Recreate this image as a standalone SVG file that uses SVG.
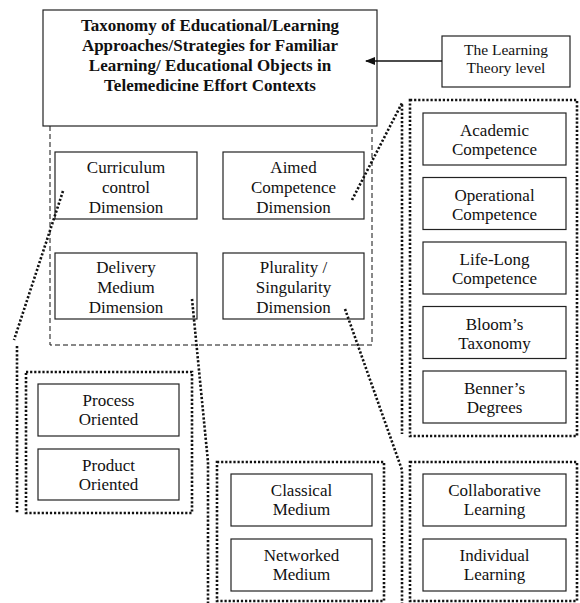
<svg xmlns="http://www.w3.org/2000/svg" width="580" height="603" viewBox="0 0 580 603">
<style>
.box{fill:#fff;stroke:#222;stroke-width:1.2}
.t{font-family:"Liberation Serif","Times New Roman",serif;font-size:17px;fill:#111;text-anchor:middle}
.tb{font-weight:bold}
.sm{font-size:15.5px}
.dot{fill:none;stroke:#111;stroke-width:2.6;stroke-dasharray:2.2 1.9}
.dash{fill:none;stroke:#111;stroke-width:1;stroke-dasharray:5 3}
</style>
<defs>
<marker id="ah" markerWidth="10" markerHeight="8" refX="9" refY="4" orient="auto" markerUnits="userSpaceOnUse">
<path d="M0,0 L10,4 L0,8 z" fill="#111"/>
</marker>
</defs>
<rect width="580" height="603" fill="#fff"/>
<g id="region">
<path class="dash" d="M50,126 L50,345 L372,345 L372,126"/>
</g>
<g id="frames">
<rect class="dot" x="410" y="100" width="167" height="336"/>
<rect class="dot" x="26" y="372" width="166" height="141"/>
<rect class="dot" x="217" y="462" width="167" height="139"/>
<rect class="dot" x="410" y="462" width="167" height="139"/>
</g>
<g id="title">
<rect class="box" x="43" y="10" width="334" height="116"/>
<text class="t tb" x="210" y="31">Taxonomy of Educational/Learning</text>
<text class="t tb" x="210" y="51">Approaches/Strategies for Familiar</text>
<text class="t tb" x="210" y="71">Learning/ Educational Objects in</text>
<text class="t tb" x="210" y="91">Telemedicine Effort Contexts</text>
</g>
<g id="theory">
<rect class="box" x="442" y="36" width="128" height="51"/>
<text class="t sm" x="506" y="55">The Learning</text>
<text class="t sm" x="506" y="73">Theory level</text>
</g>
<g id="curriculum">
<rect class="box" x="55" y="152" width="142" height="67"/>
<text class="t" x="126" y="173">Curriculum</text>
<text class="t" x="126" y="193">control</text>
<text class="t" x="126" y="213">Dimension</text>
</g>
<g id="aimed">
<rect class="box" x="223" y="152" width="141" height="67"/>
<text class="t" x="293.5" y="173">Aimed</text>
<text class="t" x="293.5" y="193">Competence</text>
<text class="t" x="293.5" y="213">Dimension</text>
</g>
<g id="delivery">
<rect class="box" x="55" y="253" width="142" height="66"/>
<text class="t" x="126" y="273">Delivery</text>
<text class="t" x="126" y="293">Medium</text>
<text class="t" x="126" y="313">Dimension</text>
</g>
<g id="plurality">
<rect class="box" x="223" y="253" width="141" height="66"/>
<text class="t" x="293.5" y="273">Plurality /</text>
<text class="t" x="293.5" y="293">Singularity</text>
<text class="t" x="293.5" y="313">Dimension</text>
</g>
<g id="academic">
<rect class="box" x="423" y="113" width="143" height="52"/>
<text class="t" x="494.5" y="136">Academic</text>
<text class="t" x="494.5" y="155">Competence</text>
</g>
<g id="operational">
<rect class="box" x="423" y="177.5" width="143" height="52"/>
<text class="t" x="494.5" y="200.5">Operational</text>
<text class="t" x="494.5" y="219.5">Competence</text>
</g>
<g id="lifelong">
<rect class="box" x="423" y="242" width="143" height="52"/>
<text class="t" x="494.5" y="265">Life-Long</text>
<text class="t" x="494.5" y="284">Competence</text>
</g>
<g id="bloom">
<rect class="box" x="423" y="306.5" width="143" height="52"/>
<text class="t" x="494.5" y="329.5">Bloom’s</text>
<text class="t" x="494.5" y="348.5">Taxonomy</text>
</g>
<g id="benner">
<rect class="box" x="423" y="371" width="143" height="52"/>
<text class="t" x="494.5" y="394">Benner’s</text>
<text class="t" x="494.5" y="413">Degrees</text>
</g>
<g id="process">
<rect class="box" x="38" y="384" width="141" height="52"/>
<text class="t" x="108.5" y="406">Process</text>
<text class="t" x="108.5" y="425">Oriented</text>
</g>
<g id="product">
<rect class="box" x="38" y="449" width="141" height="51"/>
<text class="t" x="108.5" y="471">Product</text>
<text class="t" x="108.5" y="490">Oriented</text>
</g>
<g id="classical">
<rect class="box" x="231" y="474" width="141" height="52"/>
<text class="t" x="301.5" y="496">Classical</text>
<text class="t" x="301.5" y="515">Medium</text>
</g>
<g id="networked">
<rect class="box" x="231" y="539" width="141" height="52"/>
<text class="t" x="301.5" y="561">Networked</text>
<text class="t" x="301.5" y="580">Medium</text>
</g>
<g id="collaborative">
<rect class="box" x="423" y="474" width="143" height="52"/>
<text class="t" x="494.5" y="496">Collaborative</text>
<text class="t" x="494.5" y="515">Learning</text>
</g>
<g id="individual">
<rect class="box" x="423" y="539" width="143" height="52"/>
<text class="t" x="494.5" y="561">Individual</text>
<text class="t" x="494.5" y="580">Learning</text>
</g>
<g id="connectors">
<line x1="442" y1="61" x2="366" y2="61" stroke="#111" stroke-width="1.3" marker-end="url(#ah)"/>
<path class="dot" d="M63,191 L14,340 M17,346 L17,513"/>
<path class="dot" d="M352,200 L402,103 L402,434"/>
<path class="dot" d="M192,299 L208,462 L208,603"/>
<path class="dot" d="M345,309 L402,470 L402,603"/>
</g>
</svg>
